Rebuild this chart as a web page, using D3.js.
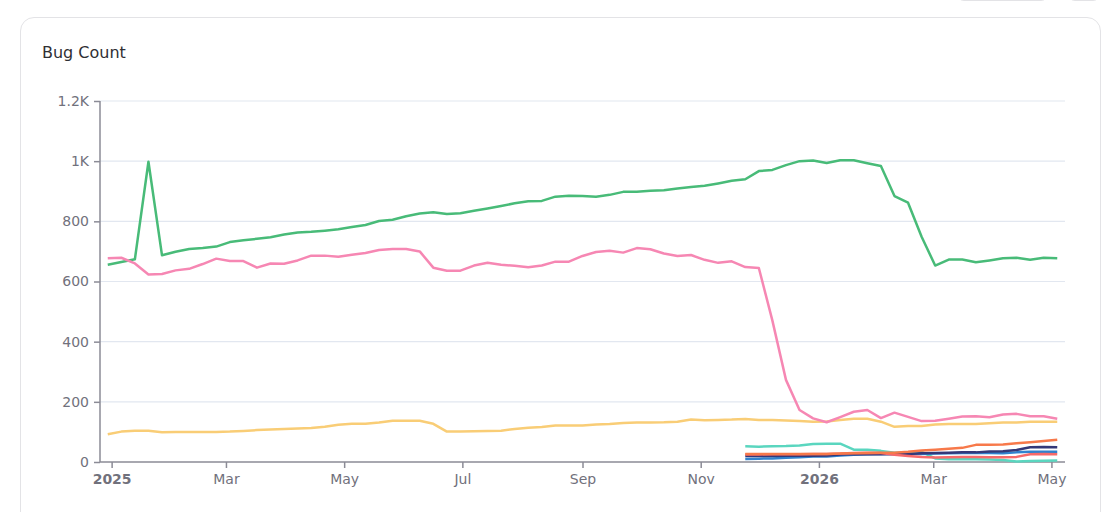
<!DOCTYPE html>
<html>
<head>
<meta charset="utf-8">
<script src="https://cdn.jsdelivr.net/npm/d3@7"></script>
<style>
  body { margin: 0; background: #fff; font-family: "DejaVu Sans", sans-serif; overflow: hidden; }
  .card { position: absolute; left: 20px; top: 17px; width: 1081px; height: 540px;
          border: 1px solid #e3e3e6; border-radius: 14px; box-sizing: border-box; }
  .btn { position: absolute; top: -30px; height: 31px; border: 1px solid #e3e3e6;
         border-radius: 8px; box-sizing: border-box; }
  #chart { position: absolute; left: 0; top: 0; }
</style>
</head>
<body>
<div class="btn" style="left:956px;width:93px"></div>
<div class="btn" style="left:1067px;width:34px"></div>
<div class="card"></div>
<svg id="chart" width="1114" height="512"></svg>
<script>
// weekly snapshots (Mondays)
const weeks = d3.timeMonday.range(new Date(2024, 11, 30), new Date(2026, 4, 5));

const green = [656, 665, 674, 998, 687, 699, 708, 711, 716, 731, 737, 742, 747, 756, 763, 765, 769, 774, 781, 788,
  801, 805, 817, 826, 830, 824, 827, 835, 843, 851, 860, 867, 868, 882, 885, 884, 882, 888, 898, 898,
  902, 903, 909, 914, 918, 926, 935, 940, 967, 971, 987, 1000, 1002, 994, 1003, 1003, 993, 984, 884, 862,
  749, 653, 673, 673, 664, 670, 677, 679, 672, 679, 677];
const pink = [677, 679, 660, 623, 625, 637, 642, 658, 676, 668, 668, 646, 660, 659, 670, 686, 686, 682, 689, 695,
  705, 708, 708, 700, 646, 636, 636, 653, 662, 656, 652, 647, 653, 666, 666, 685, 698, 702, 696, 711,
  707, 693, 685, 688, 672, 662, 667, 648, 645, 470, 273, 173, 145, 132, 149, 167, 173, 146, 164, 150,
  136, 137, 144, 151, 152, 149, 158, 160, 152, 152, 144];
const yellow = [92, 101, 104, 104, 99, 100, 100, 100, 100, 101, 103, 106, 108, 110, 111, 113, 117, 124, 127, 127,
  131, 137, 137, 137, 127, 101, 101, 102, 103, 104, 110, 114, 116, 121, 121, 121, 125, 126, 130, 131,
  131, 132, 134, 141, 139, 140, 141, 143, 140, 140, 138, 136, 134, 135, 140, 144, 144, 134, 117, 120,
  120, 125, 126, 126, 126, 129, 131, 131, 134, 134, 134];

// newer series start at week index 47
const lateStart = 47;
const teal = [52, 51, 52, 53, 55, 60, 61, 61, 41, 41, 37, 31, 32, 34, 12, 9, 9, 9, 8, 7, 2, 3, 4, 5];
const blue = [10, 11, 12, 14, 16, 18, 18, 22, 24, 26, 27, 27, 27, 27, 28, 29, 30, 31, 30, 29, 32, 34, 34, 34];
const navy = [20, 20, 20, 21, 21, 21, 22, 25, 27, 26, 26, 27, 27, 29, 30, 31, 32, 32, 35, 36, 40, 49, 50, 49];
const red = [25, 25, 26, 26, 26, 27, 27, 28, 30, 31, 30, 24, 20, 17, 15, 16, 17, 17, 16, 16, 17, 26, 27, 26];
const orange = [27, 27, 27, 27, 27, 27, 27, 28, 29, 30, 31, 31, 34, 38, 41, 44, 47, 57, 57, 58, 62, 66, 70, 74];

const yTicks = [0, 200, 400, 600, 800, 1000, 1200];

const series = [
  {values: green, offset: 0, color: '#48BB78'},
  {values: yellow, offset: 0, color: '#F9CD76'},
  {values: pink, offset: 0, color: '#F687B3'},
  {values: teal, offset: lateStart, color: '#5AD6BF'},
  {values: blue, offset: lateStart, color: '#3182CE'},
  {values: navy, offset: lateStart, color: '#343878'},
  {values: red, offset: lateStart, color: '#F76A6A'},
  {values: orange, offset: lateStart, color: '#F7794A'},
];

const plotLeft = 100, plotRight = 1065, plotTop = 101, plotBottom = 462;
let svg = d3.select('#chart');

svg.append('text')
  .attr('x', 42).attr('y', 58)
  .attr('font-size', 16)
  .attr('fill', '#2f2f33')
  .text('Bug Count');

let x = d3.scaleTime()
  .domain([d3.timeDay.offset(weeks[0], -4), d3.timeDay.offset(weeks[weeks.length - 1], 4)])
  .range([plotLeft, plotRight]);
let y = d3.scaleLinear().domain([0, 1200]).range([plotBottom, plotTop]);

// grid
svg.append('g')
  .selectAll('line')
  .data(yTicks.slice(1))
  .join('line')
  .attr('x1', plotLeft).attr('x2', plotRight)
  .attr('y1', d => y(d)).attr('y2', d => y(d))
  .attr('stroke', '#e2e7f0').attr('stroke-width', 1.2);

let fmtY = d => d >= 1000 ? d3.format('~s')(d).replace('k', 'K') : d;
let yAxis = svg.append('g')
  .attr('transform', `translate(${plotLeft},0)`)
  .call(d3.axisLeft(y).tickValues(yTicks).tickFormat(fmtY).tickSize(6).tickPadding(5));

let fmtX = d => d3.timeYear(d) < d ? d3.timeFormat('%b')(d) : d3.timeFormat('%Y')(d);
let xAxis = svg.append('g')
  .attr('transform', `translate(0,${plotBottom})`)
  .call(d3.axisBottom(x).ticks(d3.timeMonth.every(2)).tickFormat(fmtX).tickSize(6).tickPadding(6));

[yAxis, xAxis].forEach(g => {
  g.select('.domain').attr('stroke', '#8b8b96').attr('stroke-width', 1.5);
  g.selectAll('.tick line').attr('stroke', '#8b8b96').attr('stroke-width', 1.5);
  g.selectAll('.tick text')
    .attr('fill', '#71717c')
    .attr('font-size', 14)
    .attr('font-family', '"DejaVu Sans", sans-serif');
});
xAxis.select('.domain').attr('d', `M${plotLeft},0H${plotRight}`);
yAxis.select('.domain').attr('d', `M0,${plotTop}V${plotBottom}`);
xAxis.selectAll('.tick text')
  .attr('font-weight', d => d3.timeYear(d) < d ? 'normal' : 'bold');

let line = d3.line()
  .x(d => x(d[0]))
  .y(d => y(d[1]));

series.forEach(s => {
  let pts = s.values.map((v, i) => [weeks[i + s.offset], v]);
  svg.append('path')
    .datum(pts)
    .attr('d', line)
    .attr('fill', 'none')
    .attr('stroke', s.color)
    .attr('stroke-width', 2.5)
    .attr('stroke-linejoin', 'round');
});
</script>
</body>
</html>
